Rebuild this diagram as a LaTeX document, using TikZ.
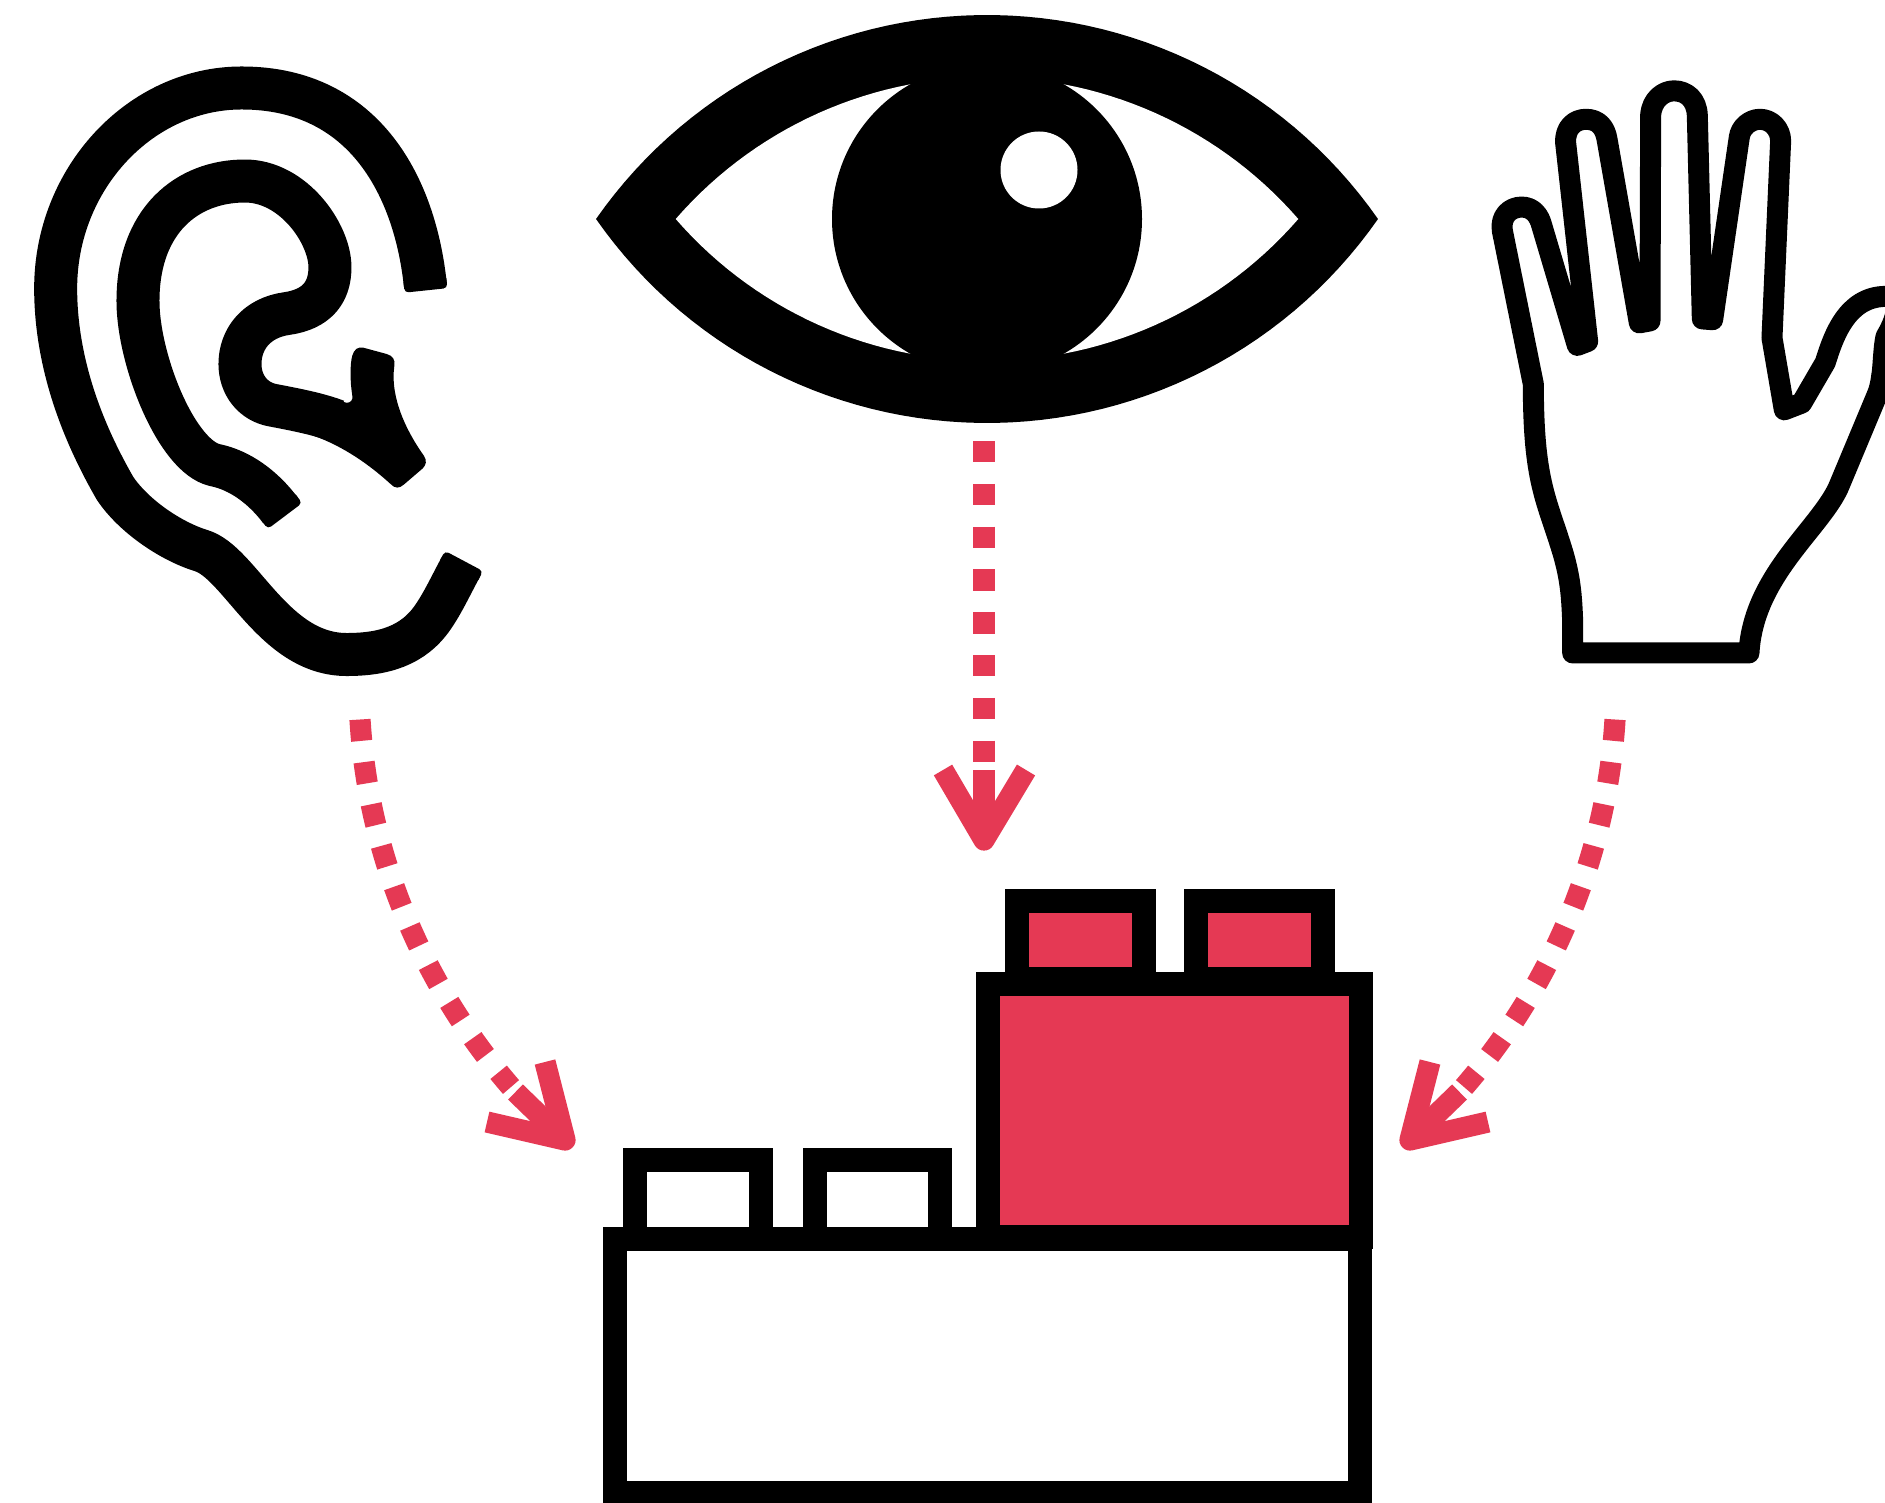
\documentclass[tikz,border=0pt]{standalone}
\definecolor{crimson}{HTML}{E53954}
\tikzset{
  brickline/.style={draw=black,line width=12pt,line join=miter},
  redbrick/.style={brickline,fill=crimson},
  whitebrick/.style={brickline,fill=white},
  dashline/.style={draw=crimson,line width=10.6pt,dash pattern=on 10.7pt off 10.7pt},
  headline/.style={draw=crimson,line width=10.6pt,line join=round},
  inkfill/.style={fill=black},
  earline/.style={draw=black,line width=21.5pt,line join=round},
  handline/.style={draw=black,line width=10.5pt,line join=round,fill=white}
}
\newcommand{\earcap}[2]{\fill[inkfill,shift={(#1)},rotate=#2,rounded corners=2pt] (-14,-21.5) -- (0,-21.5) -- (0,21.5) -- (-14,21.5) -- cycle;}
\begin{document}
\begin{tikzpicture}[x=0.5pt,y=-0.5pt]
\useasboundingbox (0,0) rectangle (1885,1503);
\fill[white] (0,0) rectangle (1885,1503);
% ear
\begin{scope}[shift={(0,40)},xscale=0.3333,yscale=0.4209]
\draw[earline] (1276,581) .. controls (1246,356) and (1100,114) .. (725,114)
  .. controls (420,114) and (167,330) .. (167,590)
  .. controls (167,800) and (280,975) .. (345,1065)
  .. controls (400,1130) and (510,1190) .. (603,1213)
  .. controls (720,1240) and (820,1460) .. (1040,1460)
  .. controls (1150,1460) and (1240,1440) .. (1300,1370)
  .. controls (1330,1335) and (1350,1300) .. (1384,1250);
\draw[earline] (841,1117) .. controls (790,1063) and (720,1022) .. (645,1010)
  .. controls (530,990) and (414,760) .. (414,620)
  .. controls (414,430) and (560,335) .. (735,335)
  .. controls (880,335) and (990,460) .. (990,540)
  .. controls (990,600) and (950,640) .. (860,650)
  .. controls (770,660) and (720,710) .. (720,770)
  .. controls (720,820) and (760,860) .. (820,868)
  .. controls (900,880) and (960,890) .. (1010,905);
\fill[inkfill] (900,885) -- (960,842) .. controls (990,848) and (1020,858) .. (1040,862) .. controls (1052,862) and (1060,855) .. (1057,845)
  .. controls (1050,810) and (1050,770) .. (1057,750) .. controls (1062,735) and (1075,728) .. (1090,731) -- (1160,746)
  .. controls (1178,750) and (1187,760) .. (1183,775) .. controls (1170,850) and (1220,930) .. (1272,988)
  .. controls (1282,1000) and (1278,1010) .. (1268,1018) -- (1212,1056) .. controls (1198,1066) and (1185,1066) .. (1172,1055)
  .. controls (1110,1010) and (1030,965) .. (940,940) -- cycle;
\end{scope}
\earcap{426,290.4}{-84}
\earcap{464,561}{62}
\earcap{285,516}{-53}
% eye
\fill[black] plot[domain=-55.1:55.1,samples=60] ({987+476.7*sin(\x)},{491.7-476.7*cos(\x)})
  -- plot[domain=55.1:-55.1,samples=60] ({987+476.7*sin(\x)},{-53.7+476.7*cos(\x)}) -- cycle;
\fill[white] plot[domain=-49:49,samples=60] ({987+412.4*sin(\x)},{489.5-412.4*cos(\x)})
  -- plot[domain=49:-49,samples=60] ({987+412.4*sin(\x)},{-51.5+412.4*cos(\x)}) -- cycle;
\fill[black] (987,219) circle[radius=155];
\fill[white] (1039,170) circle[radius=38.5];
% hand
\begin{scope}[shift={(1470,60)},xscale=0.3333,yscale=0.3953]
\path[handline] (308,1500) -- (308,1420) .. controls (305,1350) and (300,1310) .. (280,1250)
 .. controls (230,1110) and (190,1070) .. (190,820) -- (97,432)
 .. controls (90,395) and (120,372) .. (155,372) .. controls (190,372) and (208,395) .. (215,418)
 -- (322,722) -- (353,712) -- (287,210)
 .. controls (284,170) and (315,150) .. (348,150) .. controls (385,150) and (405,170) .. (411,200)
 -- (508,665) -- (540,660) -- (542,140)
 .. controls (545,100) and (580,78) .. (612,78) .. controls (650,78) and (680,100) .. (682,140)
 -- (697,655) -- (728,657) -- (808,195)
 .. controls (812,170) and (840,150) .. (870,150) .. controls (905,150) and (932,175) .. (932,205)
 -- (906,703) -- (943,885) -- (995,868) -- (1066,765)
 .. controls (1090,700) and (1130,600) .. (1245,598) .. controls (1290,598) and (1290,640) .. (1248,700)
 .. controls (1240,730) and (1240,780) .. (1235,800) .. controls (1232,820) and (1228,835) .. (1220,850)
 -- (1110,1072) .. controls (1060,1180) and (850,1300) .. (837,1500) -- cycle;
\end{scope}
% straight arrow
\draw[dashline] (984,441) -- (984,763);
\draw[headline] (984,770) -- (984,840);
\draw[headline] (943,770) -- (984,840) -- (1026,770);
% curved arrows
\foreach \sx/\dx in {1/0,-1/1975}{
\begin{scope}[shift={(\dx,0)},xscale=\sx]
\draw[dashline] (360,719.5) .. controls (368,853) and (421,983) .. (511,1087);
\draw[headline] (515.5,1092) -- (565,1140);
\draw[headline] (545,1062) -- (565,1140) -- (487,1122);
\end{scope}}
% bricks
\path[whitebrick] (615,1239) rectangle (1360,1493);
\path[whitebrick] (635,1160) rectangle (761,1239);
\path[whitebrick] (815,1160) rectangle (940,1239);
\path[redbrick] (1017,901) rectangle (1144,979);
\path[redbrick] (1196,901) rectangle (1323,979);
\path[redbrick] (988,983.5) rectangle (1361,1237);
\end{tikzpicture}
\end{document}
